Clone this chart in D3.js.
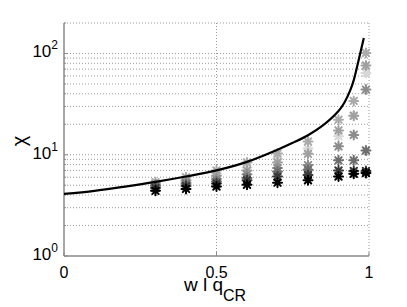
<!DOCTYPE html>
<html>
<head>
    <title>chi vs w / qCR</title>
    <script src="https://d3js.org/d3.v7.min.js"></script>
    <style>
        body { margin: 0; background: #fff; font-family: "Liberation Sans", Arial, sans-serif; }
        .grid line { stroke: #9a9a9a; stroke-width: 1; stroke-dasharray: 1,2; }
    </style>
</head>
<body style="overflow: hidden;">
<script>
    // theory curve
    var curveW   = [0, 0.1, 0.2, 0.3, 0.4, 0.5, 0.6, 0.7, 0.75, 0.8, 0.85, 0.9, 0.92, 0.94, 0.95, 0.96, 0.97, 0.983];
    var curveChi = [4.1, 4.4, 4.85, 5.4, 6.1, 7.0, 8.5, 11.2, 13.1, 15.6, 19.6, 27, 33, 44.5, 54.6, 72, 96.5, 142];

    // simulated points (asterisks), one array per grey shade
    var simW = [0.3, 0.4, 0.5, 0.6, 0.7, 0.8, 0.9, 0.95, 0.99];
    var simA = [4.4, 4.6, 4.85, 5.05, 5.3, 5.6, 6.1, 6.5, 6.6];     // black
    var simB = [4.7, 4.9, 5.2, 5.6, 6.1, 6.3, 7.0, 6.9, 6.9];
    var simC = [4.9, 5.15, 5.45, 5.9, 6.85, 7.1, 8.8, 8.8, 11];
    var simD = [5.0, 5.35, 5.75, 6.4, 7.4, 7.9, 12.1, 15.7, 44];
    var simE = [5.15, 5.6, 6.2, 7.0, 8.4, 10.2, 17.4, 24.3, 76];
    var simF = [5.2, 5.7, 6.5, 7.5, 9.2, 11.5, 15.2, 24.3, 64];
    var simG = [5.35, 6.0, 7.0, 8.4, 10.3, 13.5, 22.2, 34, 101];

    var xTicks = [0, 0.5, 1];
    var xTickLabels = ["0", "0.5", "1"];
    var yTicks = [1, 10, 100];
    var yTickExp = ["0", "1", "2"];

    var series = [
        { vals: simF, color: "#d8d8d8" },
        { vals: simG, color: "#ababab" },
        { vals: simE, color: "#a0a0a0" },
        { vals: simD, color: "#8c8c8c" },
        { vals: simC, color: "#6e6e6e" },
        { vals: simB, color: "#383838" },
        { vals: simA, color: "#000000" }
    ];

    var width = 407, height = 307;
    var pLeft = 64, pRight = 369, pTop = 23, pBottom = 256;

    var svg = d3.select("body").append("svg")
        .attr("width", width)
        .attr("height", height);

    var xscale = d3.scaleLinear().domain([0, 1]).range([pLeft, pRight]);
    var yscale = d3.scaleLog().domain([1, 200]).range([pBottom, pTop]);

    // grid: major and minor on y, major on x
    var yGrid = [];
    [1, 10, 100].forEach(function(d) {
        for (var k = 1; k <= 9; k++) { if (d * k <= 200) yGrid.push(d * k); }
    });

    var grid = svg.append("g").attr("class", "grid");
    grid.selectAll(".gy")
        .data(yGrid.filter(function(d) { return d > 1; }))
      .enter().append("line")
        .attr("x1", pLeft).attr("x2", pRight)
        .attr("y1", function(d) { return yscale(d); })
        .attr("y2", function(d) { return yscale(d); });
    grid.selectAll(".gx")
        .data([0.5, 1])
      .enter().append("line")
        .attr("x1", function(d) { return xscale(d); })
        .attr("x2", function(d) { return xscale(d); })
        .attr("y1", pTop).attr("y2", pBottom);

    // axes lines (box off: only left and bottom solid)
    svg.append("line")
        .attr("x1", pLeft).attr("x2", pLeft).attr("y1", pTop).attr("y2", pBottom)
        .attr("stroke", "#8a8a8a").attr("stroke-width", 1.5);
    svg.append("line")
        .attr("x1", pLeft).attr("x2", pRight).attr("y1", pBottom).attr("y2", pBottom)
        .attr("stroke", "#8a8a8a").attr("stroke-width", 1.5);

    // inward ticks
    svg.selectAll(".ytk")
        .data(yGrid)
      .enter().append("line")
        .attr("x1", pLeft)
        .attr("x2", function(d) { return yTicks.indexOf(d) >= 0 ? pLeft + 4 : pLeft + 2; })
        .attr("y1", function(d) { return yscale(d); })
        .attr("y2", function(d) { return yscale(d); })
        .attr("stroke", "#8a8a8a");
    svg.selectAll(".xtk")
        .data(xTicks)
      .enter().append("line")
        .attr("x1", function(d) { return xscale(d); })
        .attr("x2", function(d) { return xscale(d); })
        .attr("y1", pBottom).attr("y2", pBottom - 4)
        .attr("stroke", "#8a8a8a");

    // tick labels
    svg.selectAll(".xlab")
        .data(xTicks)
      .enter().append("text")
        .attr("x", function(d) { return xscale(d); })
        .attr("y", 278)
        .attr("text-anchor", "middle")
        .style("font-size", "16px")
        .text(function(d, i) { return xTickLabels[i]; });

    var ylab = svg.selectAll(".ylab")
        .data(yTicks)
      .enter().append("text")
        .attr("x", 58)
        .attr("y", function(d) { return yscale(d) + 4; })
        .attr("text-anchor", "end")
        .style("font-size", "17px");
    ylab.append("tspan").text("10");
    ylab.append("tspan")
        .attr("dy", -8)
        .style("font-size", "12px")
        .text(function(d, i) { return yTickExp[i]; });

    // axis labels
    svg.append("text")
        .attr("transform", "translate(26,141) rotate(-90)")
        .attr("text-anchor", "middle")
        .style("font-size", "20px")
        .text("\u03c7");

    var xl = svg.append("text")
        .attr("x", 215)
        .attr("y", 291)
        .attr("text-anchor", "middle")
        .style("font-size", "19px");
    xl.append("tspan").text("w l q");
    xl.append("tspan").attr("dy", 10).style("font-size", "16px").text("CR");

    // asterisk markers
    var r = 4.5;
    var d2 = r * 0.72;
    var starPath = "M" + (-r) + ",0L" + r + ",0M0," + (-r) + "L0," + r +
        "M" + (-d2) + "," + (-d2) + "L" + d2 + "," + d2 +
        "M" + (-d2) + "," + d2 + "L" + d2 + "," + (-d2);

    series.forEach(function(s) {
        svg.append("g").selectAll("path")
            .data(simW)
          .enter().append("path")
            .attr("d", starPath)
            .attr("transform", function(w, i) {
                return "translate(" + xscale(w) + "," + yscale(s.vals[i]) + ")";
            })
            .attr("fill", "none")
            .attr("stroke", s.color)
            .attr("stroke-width", 2)
            .attr("stroke-linecap", "round");
    });

    // theory curve
    var line = d3.line()
        .x(function(d) { return xscale(d[0]); })
        .y(function(d) { return yscale(d[1]); })
        .curve(d3.curveCatmullRom.alpha(0.5));

    svg.append("path")
        .datum(curveW.map(function(w, i) { return [w, curveChi[i]]; }))
        .attr("d", line)
        .attr("fill", "none")
        .attr("stroke", "#000")
        .attr("stroke-width", 2.2);
</script>
</body>
</html>
